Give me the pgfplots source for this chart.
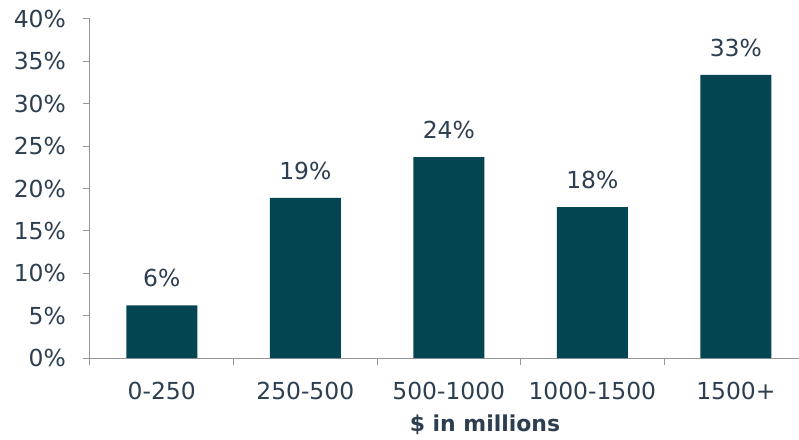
\documentclass[border=0pt]{standalone}
\usepackage{pgfplots}
\pgfplotsset{compat=1.18}
\usepackage{fontspec}
\setmainfont{DejaVu Sans}
\definecolor{barc}{RGB}{3,69,80}
\definecolor{txt}{RGB}{44,62,80}
\definecolor{axc}{RGB}{145,150,155}
\begin{document}
\begin{tikzpicture}
\path[use as bounding box] (-90bp,-82bp) rectangle (709bp,358bp);
\begin{axis}[
  scale only axis, width=709bp, height=339bp,
  xmin=-0.5, xmax=4.44, ymin=0, ymax=40,
  axis lines=left,
  axis line style={-, draw=axc, line width=1bp},
  ybar, bar width=71bp,
  ytick={0,5,...,40},
  yticklabel={\pgfmathprintnumber{\tick}\%},
  xtick={0,1,2,3,4},
  xticklabels={0-250,250-500,500-1000,1000-1500,1500+},
  minor xtick={-0.5,0.5,1.5,2.5,3.5},
  major x tick style={draw=none},
  tick align=outside,
  major tick length=7bp, minor tick length=7bp,
  tick style={draw=axc, line width=1bp},
  /pgf/number format/assume math mode=true,
  tick label style={font=\fontsize{23.5}{28}\selectfont, text=txt},
  x tick label style={anchor=north, inner sep=0pt, yshift=-17bp},
  y tick label style={anchor=east, inner sep=0pt, xshift=-17bp},
  xlabel={\$ in millions},
  xlabel style={at={(rel axis cs:0.557,0)}, anchor=center, yshift=-67bp, font=\fontsize{22}{26}\selectfont\bfseries, text=txt},
  nodes near coords={\pgfmathprintnumber[fixed,precision=0]{\pgfplotspointmeta}\%},
  every node near coord/.append style={font=\fontsize{23.5}{28}\selectfont, text=txt, anchor=south, inner sep=0pt, yshift=18bp},
  clip=false,
]
\addplot[fill=barc, draw=none] coordinates {(0,6.2) (1,18.9) (2,23.7) (3,17.8) (4,33.4)};
\end{axis}
\end{tikzpicture}
\end{document}
